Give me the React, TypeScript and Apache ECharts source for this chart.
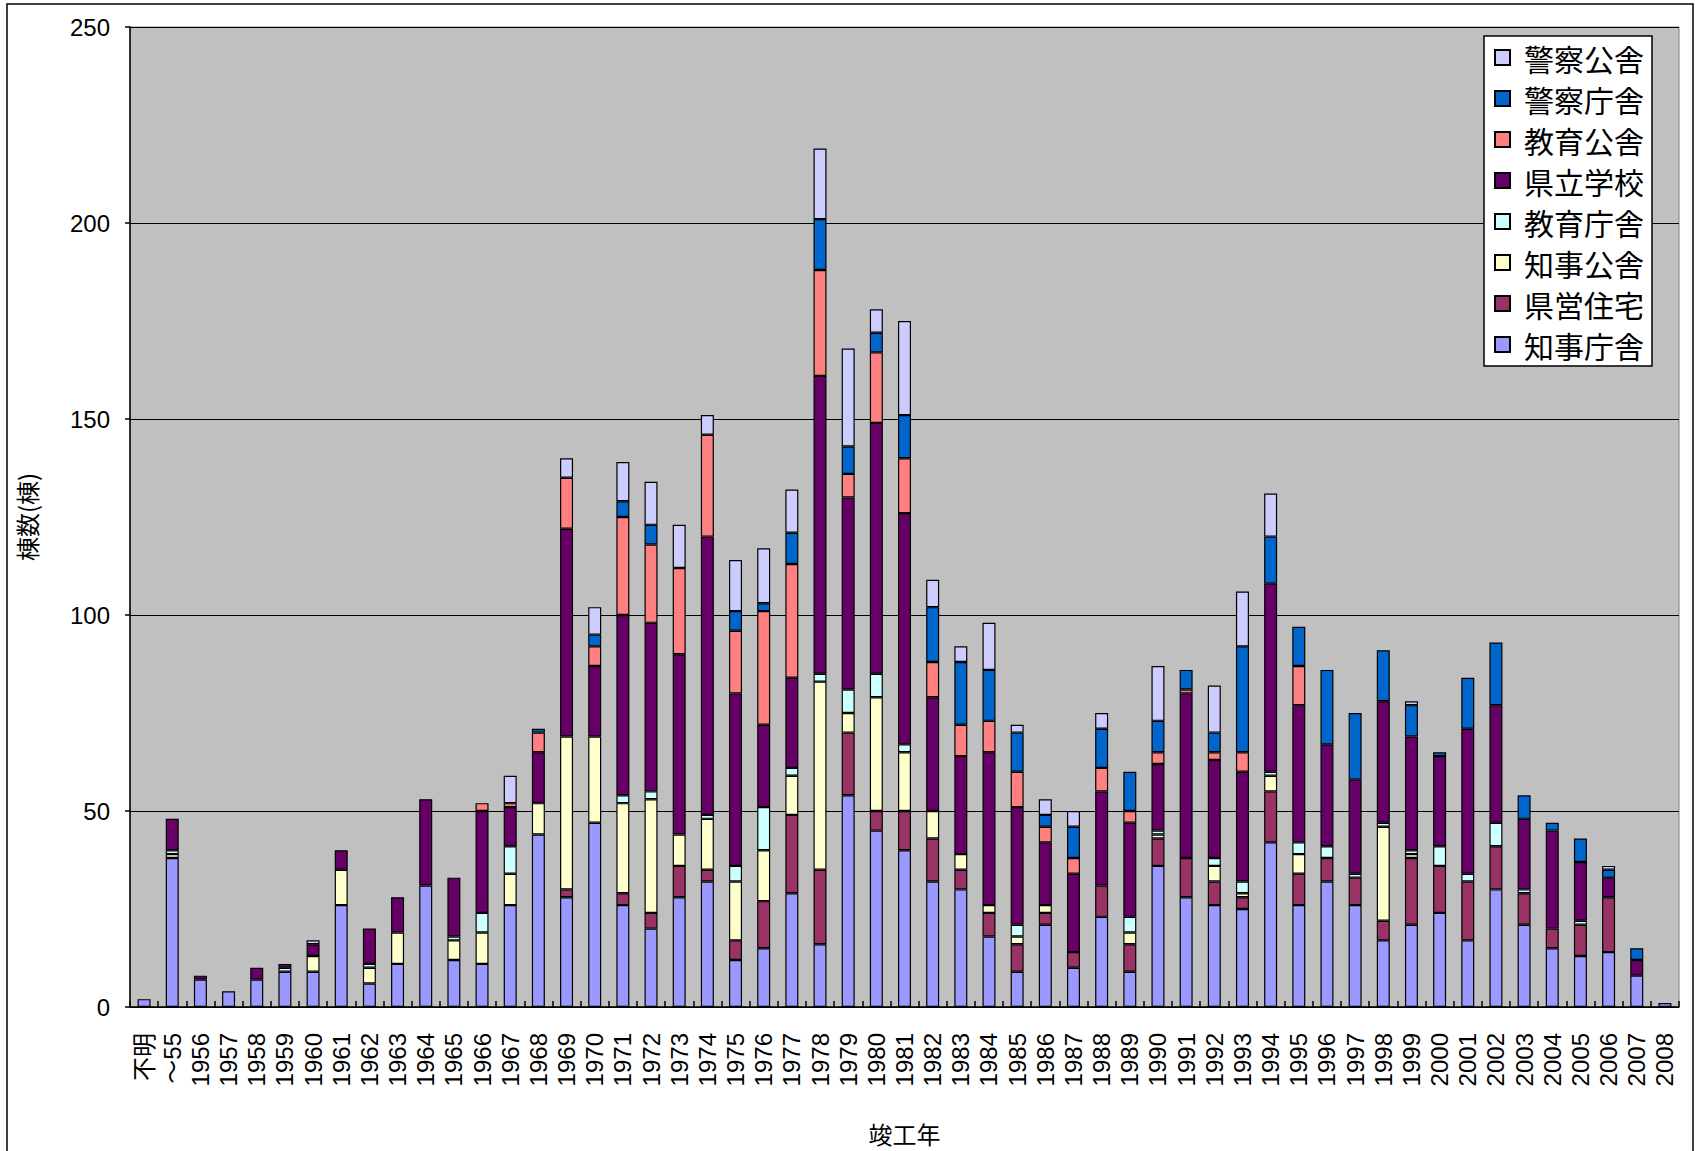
import React, { useEffect, useRef } from "react";
import * as echarts from "echarts";

const categories = [
  "不明", "～55", "1956", "1957", "1958", "1959", "1960", "1961", "1962", "1963",
  "1964", "1965", "1966", "1967", "1968", "1969", "1970", "1971", "1972", "1973",
  "1974", "1975", "1976", "1977", "1978", "1979", "1980", "1981", "1982", "1983",
  "1984", "1985", "1986", "1987", "1988", "1989", "1990", "1991", "1992", "1993",
  "1994", "1995", "1996", "1997", "1998", "1999", "2000", "2001", "2002", "2003",
  "2004", "2005", "2006", "2007", "2008",
];

// 知事庁舎
const chijiChosha = [
  2, 38, 7, 4, 7, 9, 9, 26, 6, 11,
  31, 12, 11, 26, 44, 28, 47, 26, 20, 28,
  32, 12, 15, 29, 16, 54, 45, 40, 32, 30,
  18, 9, 21, 10, 23, 9, 36, 28, 26, 25,
  42, 26, 32, 26, 17, 21, 24, 17, 30, 21,
  15, 13, 14, 8, 1,
];
// 県営住宅
const kenei = [
  0, 0, 0, 0, 0, 0, 0, 0, 0, 0,
  0, 0, 0, 0, 0, 2, 0, 3, 4, 8,
  3, 5, 12, 20, 19, 16, 5, 10, 11, 5,
  6, 7, 3, 4, 8, 7, 7, 10, 6, 3,
  13, 8, 6, 7, 5, 17, 12, 15, 11, 8,
  5, 8, 14, 0, 0,
];
// 知事公舎
const chijiKosha = [
  0, 1, 0, 0, 0, 0, 4, 9, 4, 8,
  0, 5, 8, 8, 8, 39, 22, 23, 29, 8,
  13, 15, 13, 10, 48, 5, 29, 15, 7, 4,
  2, 2, 2, 0, 0, 3, 1, 0, 4, 1,
  4, 5, 0, 0, 24, 1, 0, 0, 0, 0,
  0, 0, 0, 0, 0,
];
// 教育庁舎
const kyoikuChosha = [
  0, 1, 0, 0, 0, 1, 0, 0, 1, 0,
  0, 1, 5, 7, 0, 0, 0, 2, 2, 0,
  1, 4, 11, 2, 2, 6, 6, 2, 0, 0,
  0, 3, 0, 0, 0, 4, 1, 0, 2, 3,
  1, 3, 3, 1, 1, 1, 5, 2, 6, 1,
  0, 1, 0, 0, 0,
];
// 県立学校
const kenritsu = [
  0, 8, 1, 0, 3, 1, 3, 5, 9, 9,
  22, 15, 26, 10, 13, 53, 18, 46, 43, 46,
  71, 44, 21, 23, 76, 49, 64, 59, 29, 25,
  39, 30, 16, 20, 24, 24, 17, 42, 25, 28,
  48, 35, 26, 24, 31, 29, 23, 37, 30, 18,
  25, 15, 5, 4, 0,
];
// 教育公舎
const kyoikuKosha = [
  0, 0, 0, 0, 0, 0, 0, 0, 0, 0,
  0, 0, 2, 1, 5, 13, 5, 25, 20, 22,
  26, 16, 29, 29, 27, 6, 18, 14, 9, 8,
  8, 9, 4, 4, 6, 3, 3, 1, 2, 5,
  0, 10, 0, 0, 0, 0, 0, 0, 0, 0,
  0, 0, 0, 0, 0,
];
// 警察庁舎
const keisatsuChosha = [
  0, 0, 0, 0, 0, 0, 0, 0, 0, 0,
  0, 0, 0, 0, 1, 0, 3, 4, 5, 0,
  0, 5, 2, 8, 13, 7, 5, 11, 14, 16,
  13, 10, 3, 8, 10, 10, 8, 5, 5, 27,
  12, 10, 19, 17, 13, 8, 1, 13, 16, 6,
  2, 6, 2, 3, 0,
];
// 警察公舎
const keisatsuKosha = [
  0, 0, 0, 0, 0, 0, 1, 0, 0, 0,
  0, 0, 0, 7, 0, 5, 7, 10, 11, 11,
  5, 13, 14, 11, 18, 25, 6, 24, 7, 4,
  12, 2, 4, 4, 4, 0, 14, 0, 12, 14,
  11, 0, 0, 0, 0, 1, 0, 0, 0, 0,
  0, 0, 1, 0, 0,
];

const yTicks = [0, 50, 100, 150, 200, 250];

const seriesDefs = [
  { name: "知事庁舎", data: chijiChosha, color: "#9999FF" },
  { name: "県営住宅", data: kenei, color: "#993366" },
  { name: "知事公舎", data: chijiKosha, color: "#FFFFCC" },
  { name: "教育庁舎", data: kyoikuChosha, color: "#CCFFFF" },
  { name: "県立学校", data: kenritsu, color: "#660066" },
  { name: "教育公舎", data: kyoikuKosha, color: "#FF8080" },
  { name: "警察庁舎", data: keisatsuChosha, color: "#0066CC" },
  { name: "警察公舎", data: keisatsuKosha, color: "#CCCCFF" },
];

const FONT = "'Liberation Sans', 'Noto Sans CJK JP', sans-serif";

export default function App() {
  const ref = useRef<HTMLDivElement>(null);
  useEffect(() => {
    if (!ref.current) return;
    const chart = echarts.init(ref.current, undefined, { renderer: "svg" });
    chart.setOption({
      animation: false,
      backgroundColor: "#FFFFFF",
      textStyle: { fontFamily: FONT },
      graphic: [
        {
          type: "rect",
          shape: { x: 7, y: 4, width: 1686, height: 1160 },
          style: { fill: "none", stroke: "#000", lineWidth: 1.5 },
          silent: true,
          z: 0,
        },
      ],
      grid: {
        left: 130,
        right: 17,
        top: 27,
        bottom: 144,
        containLabel: false,
        outerBoundsMode: "none",
        show: true,
        backgroundColor: "#C0C0C0",
        borderColor: "#808080",
        borderWidth: 1,
      },
      legend: {
        orient: "vertical",
        left: 1484,
        top: 36,
        data: [...seriesDefs].reverse().map((s) => s.name),
        backgroundColor: "#FFFFFF",
        borderColor: "#000",
        borderWidth: 1.5,
        padding: [6, 8, 6, 10],
        itemWidth: 15,
        itemHeight: 15,
        itemGap: 10,
        icon: "rect",
        textStyle: {
          fontSize: 30,
          color: "#000",
          fontFamily: "'Noto Sans CJK JP', sans-serif",
          lineHeight: 31,
          padding: [0, 0, 0, 9],
        },
      },
      xAxis: {
        type: "category",
        data: categories,
        name: "竣工年",
        nameLocation: "middle",
        nameGap: 114,
        nameTextStyle: {
          fontSize: 24,
          color: "#000",
          fontFamily: "'Noto Sans CJK JP', sans-serif",
        },
        axisLine: { lineStyle: { color: "#000", width: 1.5 } },
        axisTick: {
          show: true,
          inside: true,
          length: 6,
          lineStyle: { color: "#000", width: 1.5 },
        },
        axisLabel: {
          interval: 0,
          rotate: 90,
          fontSize: 24,
          color: "#000",
          margin: 26,
          fontFamily: FONT,
        },
      },
      yAxis: {
        type: "value",
        min: yTicks[0],
        max: yTicks[yTicks.length - 1],
        interval: 50,
        name: "棟数(棟)",
        nameLocation: "middle",
        nameRotate: 90,
        nameGap: 92,
        nameTextStyle: {
          fontSize: 24,
          color: "#000",
          fontFamily: "'Noto Sans CJK JP', sans-serif",
        },
        axisLine: { show: true, lineStyle: { color: "#000", width: 1.5 } },
        axisTick: { show: true, length: 5, lineStyle: { color: "#000", width: 1.5 } },
        axisLabel: { fontSize: 24, color: "#000", margin: 20, fontFamily: FONT },
        splitLine: { show: true, lineStyle: { color: "#000", width: 1.2 } },
      },
      series: seriesDefs.map((s) => ({
        name: s.name,
        type: "bar",
        stack: "total",
        barWidth: 13,
        data: s.data.map((v) => (v === 0 ? "-" : v)),
        itemStyle: { color: s.color, borderColor: "#000", borderWidth: 1.2 },
      })),
    });
    return () => chart.dispose();
  }, []);
  return (
    <div
      ref={ref}
      style={{ position: "absolute", left: 0, top: 0, width: 1696, height: 1151 }}
    />
  );
}
